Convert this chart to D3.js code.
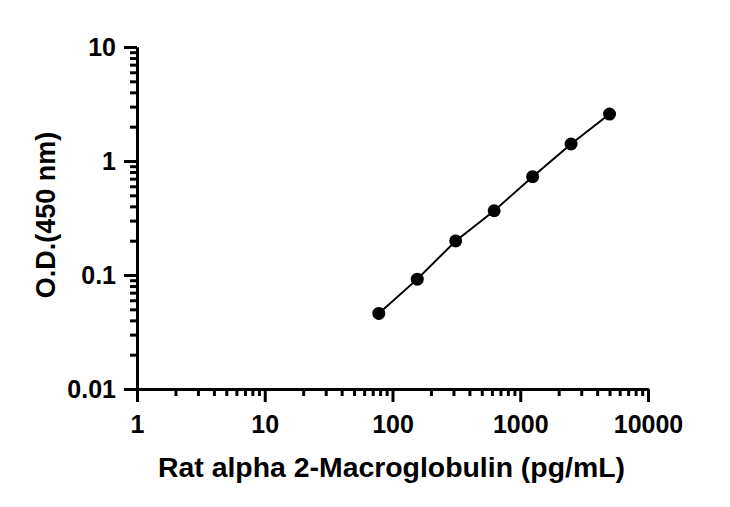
<!DOCTYPE html>
<html>
<head>
<meta charset="utf-8">
<script src="https://cdn.jsdelivr.net/npm/d3@7"></script>
<style>
html,body{margin:0;padding:0;background:#fff;}
text{font-family:"Liberation Sans",Arial,sans-serif;font-weight:bold;fill:#000;}
</style>
</head>
<body>
<svg id="c" width="730" height="507"></svg>
<script>
const concentrations = [78.125, 156.25, 312.5, 625, 1250, 2500, 5000];
const odValues = [0.046, 0.092, 0.199, 0.366, 0.728, 1.41, 2.58];
const xTickValues = [1, 10, 100, 1000, 10000];
const xTickLabels = ["1", "10", "100", "1000", "10000"];
const yTickValues = [0.01, 0.1, 1, 10];
const yTickLabels = ["0.01", "0.1", "1", "10"];
const xTitle = "Rat alpha 2-Macroglobulin (pg/mL)";
const yTitle = "O.D.(450 nm)";

const svg = d3.select("#c");
const x = d3.scaleLog().domain([1, 10000]).range([137, 648]);
const y = d3.scaleLog().domain([0.01, 10]).range([389, 47]);

function minors(lo, hi) {
  const out = [];
  for (let d = lo; d < hi; d *= 10) for (let k = 2; k <= 9; k++) out.push(d * k);
  return out;
}

// minor ticks
svg.append("g").attr("transform", "translate(0,389)")
  .call(d3.axisBottom(x).tickValues(minors(1, 10000)).tickSize(7).tickSizeOuter(0).tickFormat(""));
svg.append("g").attr("transform", "translate(137,0)")
  .call(d3.axisLeft(y).tickValues(minors(0.01, 10)).tickSize(7).tickSizeOuter(0).tickFormat(""));

// major ticks
svg.append("g").attr("transform", "translate(0,389)")
  .call(d3.axisBottom(x).tickValues(xTickValues).tickSize(13).tickSizeOuter(0).tickPadding(13)
    .tickFormat((d, i) => xTickLabels[i]));
svg.append("g").attr("transform", "translate(137,0)")
  .call(d3.axisLeft(y).tickValues(yTickValues).tickSize(13).tickSizeOuter(0).tickPadding(8)
    .tickFormat((d, i) => yTickLabels[i]));

svg.selectAll(".domain, .tick line").attr("stroke", "#000").attr("stroke-width", 3);
svg.selectAll(".tick text").style("font-size", "25px").style("font-family", '"Liberation Sans",Arial,sans-serif').style("font-weight", "bold").attr("fill", "#000");

// line
const line = d3.line().x(d => x(d[0])).y(d => y(d[1]));
const pts = concentrations.map((c, i) => [c, odValues[i]]);
svg.append("path").datum(pts).attr("d", line).attr("fill", "none").attr("stroke", "#000").attr("stroke-width", 2);
svg.selectAll("circle.pt").data(pts).enter().append("circle")
  .attr("cx", d => x(d[0])).attr("cy", d => y(d[1])).attr("r", 6.5).attr("fill", "#000");

// titles
svg.append("text").attr("x", 391.5).attr("y", 477).attr("text-anchor", "middle")
  .style("font-size", "28.4px").text(xTitle);
svg.append("text").attr("transform", "translate(55,215) rotate(-90)").attr("text-anchor", "middle")
  .style("font-size", "27px").text(yTitle);
</script>
</body>
</html>
